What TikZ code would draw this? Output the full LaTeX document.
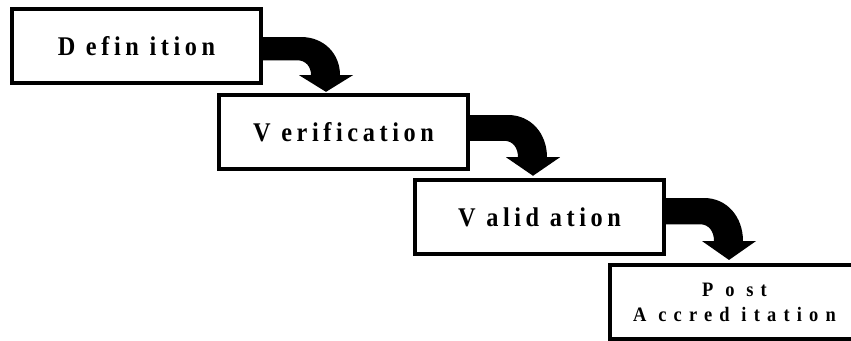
\documentclass[tikz,border=0pt]{standalone}
\usepackage{fontspec}
\setmainfont{Liberation Serif}
\newfontfamily\boxfont{Liberation Serif}[LetterSpace=17,FakeStretch=0.9]
\newfontfamily\postfont{Liberation Serif}[LetterSpace=35,FakeStretch=0.9]
\usetikzlibrary{calc}
\begin{document}
\begin{tikzpicture}[x=1pt,y=-1pt,
  stage/.style={draw, line width=4pt, minimum width=249pt, minimum height=74pt,
    inner sep=0pt, anchor=north west, font=\boxfont\bfseries\fontsize{27}{30}\selectfont},
  poststage/.style={stage, align=center, font=\postfont\bfseries\fontsize{20.5}{25}\selectfont},
  pics/stairarrow/.style={code={
    \fill[black] (0,0) -- (40,0) .. controls (63,0) and (79,18) .. (79,41)
      -- (92,41) -- (65,59) -- (38,41) -- (50,41)
      .. controls (50,32) and (45,25) .. (36,25) -- (0,25) -- cycle;}}]
\useasboundingbox (0,0) rectangle (851,340);
\clip (0,0) rectangle (851,340);
\node[stage] (b1) at (10,7) {D efin ition};
\node[stage] (b2) at (217,93) {V erification};
\node[stage] (b3) at (413,178) {V alid ation};
\node[poststage] (b4) at (608,263) {P o st\\A ccred itation};
\pic[yscale=0.93] at ($(b1.north east)+(-2,30)$) {stairarrow};
\pic[yscale=1.03] at ($(b2.north east)+(-2,22)$) {stairarrow};
\pic[yscale=1.05] at ($(b3.north east)+(-2,20)$) {stairarrow};
\end{tikzpicture}
\end{document}
